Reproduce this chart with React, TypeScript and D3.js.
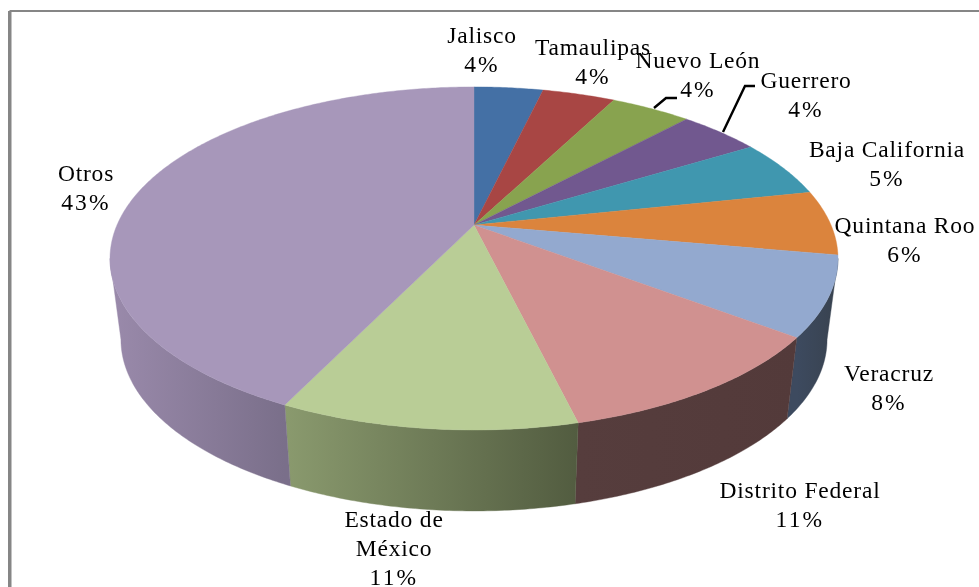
import React from "react";
import * as d3 from "d3";

const categories = ["Jalisco","Tamaulipas","Nuevo León","Guerrero","Baja California","Quintana Roo","Veracruz","Distrito Federal","Estado de México","Otros"];
const values = [3.7,3.9,4.3,4.4,5.4,6.1,7.5,10.9,11.0,42.8];
const percentLabels = ["4%","4%","4%","4%","5%","6%","8%","11%","11%","43%"];

const topColors = ["#4470A5","#A84644","#88A34F","#71588F","#4097AF","#DB843D","#93A9CF","#D09190","#B9CD96","#A797BA"];
const sideFrom = ["#2b4669","#6b2d2b","#566832","#48385b","#295f6f","#8b5427","#3d4a5f","#563d3d","#8a9a6e","#9a8aab"];
const sideTo = ["#2b4669","#6b2d2b","#566832","#48385b","#295f6f","#8b5427","#38424f","#533a3a","#525c40","#7a6f8a"];

// [centre x, first baseline, line breaks]
const labelPlace: [number, number, string[]][] = [
  [482, 43, ["Jalisco"]],
  [593, 55, ["Tamaulipas"]],
  [698, 68, ["Nuevo León"]],
  [806, 88, ["Guerrero"]],
  [887, 157, ["Baja California"]],
  [905, 233, ["Quintana Roo"]],
  [889, 381, ["Veracruz"]],
  [800, 498, ["Distrito Federal"]],
  [394, 527, ["Estado de", "México"]],
  [86, 181, ["Otros"]],
];
const leaders: [number, number][][] = [
  [[654, 108], [666, 98], [677, 98]],
  [[723, 132], [745, 86], [755, 86]],
];

const CX = 474, CY = 225, R = 357, B = 165, P = 0.195, DEPTH = 81, BOTTOM_SCALE = 0.97;

const project = (t: number, depth = 0) => {
  const w = 1 + P * Math.cos(t);
  const s = depth ? BOTTOM_SCALE : 1;
  return [CX + (s * R * Math.sin(t)) / w, CY + depth - (B * Math.cos(t)) / w] as [number, number];
};

const arcPts = (a0: number, a1: number, depth = 0) => {
  const n = Math.max(2, Math.ceil((a1 - a0) / 0.01));
  return d3.range(n + 1).map((i) => project(a0 + ((a1 - a0) * i) / n, depth));
};

const line = d3.line();

export default function App() {
  const arcs = d3.pie<number>().sort(null).startAngle(0).endAngle(2 * Math.PI)(values);
  const font = "'Liberation Serif', serif";
  const frontStart = Math.acos(-P);
  const frontEnd = 2 * Math.PI - frontStart;
  const front = arcs
    .map((a, i) => ({ i, lo: Math.max(a.startAngle, frontStart), hi: Math.min(a.endAngle, frontEnd) }))
    .filter((f) => f.hi > f.lo);
  return (
    <svg width={979} height={587} style={{ position: "absolute", left: 0, top: 0, display: "block", background: "#fff" }}>
      <defs>
        {front.map(({ i, lo, hi }) => {
          const xs = arcPts(lo, hi).map((p) => p[0]);
          return (
            <linearGradient key={i} id={`side${i}`} gradientUnits="userSpaceOnUse"
              x1={d3.min(xs)} x2={d3.max(xs)} y1={0} y2={0}>
              <stop offset="0" stopColor={sideFrom[i]} />
              <stop offset="1" stopColor={sideTo[i]} />
            </linearGradient>
          );
        })}
        <filter id="soft" x="-5%" y="-5%" width="110%" height="110%">
          <feGaussianBlur stdDeviation="0.35" />
        </filter>
      </defs>
      <path d="M10.5,587V11H979" fill="none" stroke="#868686" strokeWidth={2} />
      <path d="M9.5,587V11" fill="none" stroke="#868686" strokeWidth={3} />
      <g>
        {front.map(({ i, lo, hi }) => {
          const pts = [...arcPts(lo, hi), ...arcPts(lo, hi, DEPTH).reverse()];
          return <path key={i} d={line(pts) + "Z"} fill={`url(#side${i})`} stroke={`url(#side${i})`} strokeWidth={0.4} />;
        })}
        {arcs.map((a, i) => {
          const pts = [[CX, CY] as [number, number], ...arcPts(a.startAngle, a.endAngle)];
          return <path key={i} d={line(pts) + "Z"} fill={topColors[i]} stroke={topColors[i]} strokeWidth={0.4} />;
        })}
      </g>
      {leaders.map((l, i) => (
        <path key={i} d={line(l) ?? ""} fill="none" stroke="#000" strokeWidth={2.4} />
      ))}
      <g fontFamily={font} fontSize={23.5} letterSpacing={0.8} fill="#000" textAnchor="middle" filter="url(#soft)">
        {labelPlace.map(([x, y, rows], i) => (
          <text key={categories[i]} x={x} y={y}>
            {rows.map((r, k) => (
              <tspan key={k} x={x} y={y + k * 29}>{r}</tspan>
            ))}
            <tspan x={x} y={y + rows.length * 29} letterSpacing={2.2}>{percentLabels[i]}</tspan>
          </text>
        ))}
      </g>
    </svg>
  );
}
